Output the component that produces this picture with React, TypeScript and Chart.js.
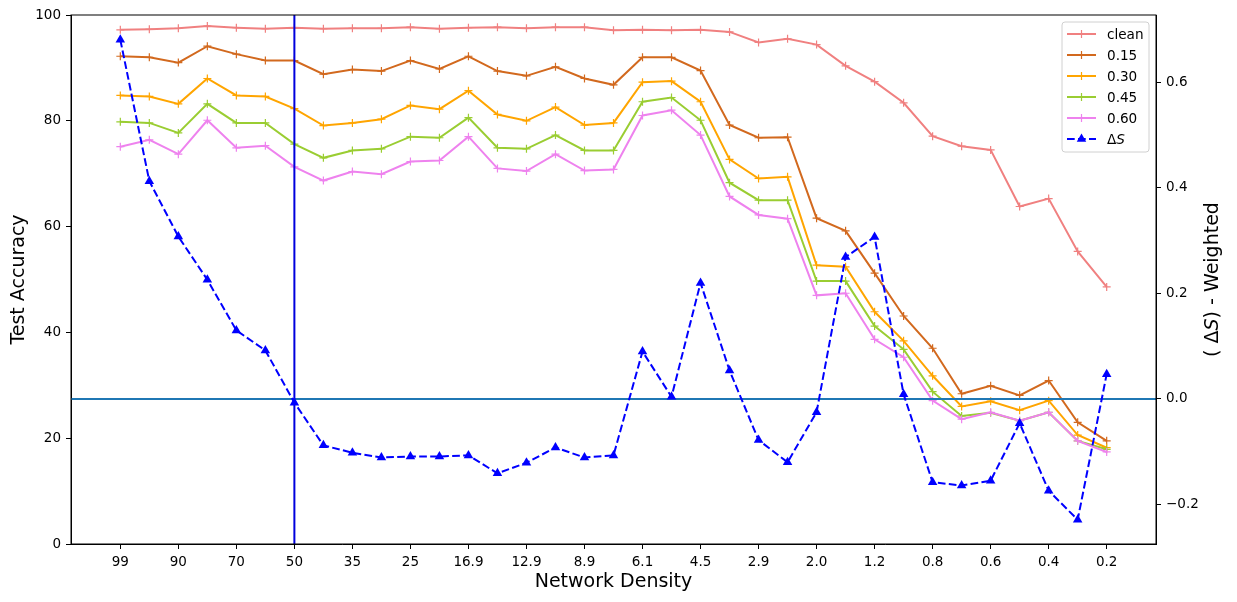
import React, { useEffect, useRef } from 'react';
import { Chart, registerables } from 'chart.js';

Chart.register(...registerables);

// x positions 0..34, labels only on every second point
const xTickLabels = ['99', '90', '70', '50', '35', '25', '16.9', '12.9', '8.9', '6.1', '4.5', '2.9', '2.0', '1.2', '0.8', '0.6', '0.4', '0.2'];

const clean = [97.2, 97.3, 97.5, 97.9, 97.6, 97.4, 97.6, 97.4, 97.5, 97.5, 97.7, 97.4, 97.6, 97.7, 97.5, 97.7, 97.7, 97.1, 97.2, 97.1, 97.2, 96.8, 94.8, 95.5, 94.4, 90.4, 87.4, 83.4, 77.1, 75.2, 74.5, 63.8, 65.3, 55.3, 48.6];
const noise015 = [92.2, 92.0, 91.0, 94.1, 92.6, 91.4, 91.4, 88.8, 89.7, 89.4, 91.4, 89.8, 92.2, 89.4, 88.5, 90.2, 88.0, 86.8, 92.0, 92.0, 89.5, 79.2, 76.8, 76.9, 61.6, 59.2, 51.2, 43.1, 37.0, 28.4, 29.9, 28.1, 30.9, 23.0, 19.5];
const noise030 = [84.8, 84.6, 83.2, 88.0, 84.8, 84.6, 82.3, 79.1, 79.6, 80.3, 82.9, 82.2, 85.7, 81.2, 80.0, 82.6, 79.2, 79.6, 87.3, 87.5, 83.6, 72.7, 69.1, 69.4, 52.7, 52.4, 43.9, 38.4, 31.8, 26.0, 27.0, 25.3, 27.1, 20.6, 18.2];
const noise045 = [79.8, 79.6, 77.7, 83.2, 79.6, 79.6, 75.6, 73.0, 74.4, 74.7, 77.0, 76.8, 80.6, 74.9, 74.7, 77.3, 74.4, 74.4, 83.6, 84.4, 80.1, 68.3, 65.0, 65.0, 49.7, 49.7, 41.2, 36.8, 28.8, 24.2, 24.8, 23.3, 24.9, 19.5, 17.9];
const noise060 = [75.1, 76.4, 73.7, 80.1, 74.9, 75.3, 71.3, 68.7, 70.4, 69.9, 72.3, 72.5, 77.0, 71.0, 70.5, 73.7, 70.6, 70.8, 81.0, 82.0, 77.3, 65.7, 62.2, 61.5, 47.0, 47.4, 38.7, 35.3, 27.1, 23.6, 24.9, 23.3, 24.9, 19.5, 17.4];
const deltaS = [0.681, 0.413, 0.308, 0.226, 0.130, 0.092, -0.007, -0.088, -0.102, -0.111, -0.109, -0.109, -0.107, -0.141, -0.121, -0.092, -0.111, -0.107, 0.090, 0.004, 0.220, 0.054, -0.078, -0.120, -0.025, 0.269, 0.307, 0.009, -0.158, -0.164, -0.155, -0.046, -0.174, -0.229, 0.047];

const leftTicks = [0, 20, 40, 60, 80, 100];
const rightTicks = [-0.2, 0, 0.2, 0.4, 0.6];
const splitIndex = 6; // density 50

const FONT = "'DejaVu Sans', sans-serif";

const toPoints = (values: number[]) => values.map((y, x) => ({ x, y }));

type Part = { text: string; italic?: boolean };

const measureParts = (ctx: CanvasRenderingContext2D, parts: Part[], size: number) =>
  parts.reduce((w, p) => {
    ctx.font = `${p.italic ? 'italic ' : ''}${size}px ${FONT}`;
    return w + ctx.measureText(p.text).width;
  }, 0);

const drawParts = (ctx: CanvasRenderingContext2D, parts: Part[], x: number, y: number, size: number) => {
  let cx = x;
  parts.forEach(p => {
    ctx.font = `${p.italic ? 'italic ' : ''}${size}px ${FONT}`;
    ctx.fillText(p.text, cx, y);
    cx += ctx.measureText(p.text).width;
  });
};

const drawMarker = (ctx: CanvasRenderingContext2D, style: string, x: number, y: number, r: number) => {
  ctx.beginPath();
  if (style === 'triangle') {
    for (let k = 0; k < 3; k++) {
      const a = (k * 2 * Math.PI) / 3;
      const px = x + Math.sin(a) * r;
      const py = y - Math.cos(a) * r;
      if (k === 0) ctx.moveTo(px, py);
      else ctx.lineTo(px, py);
    }
    ctx.closePath();
    ctx.fill();
  } else {
    ctx.moveTo(x - r, y);
    ctx.lineTo(x + r, y);
    ctx.moveTo(x, y - r);
    ctx.lineTo(x, y + r);
    ctx.stroke();
  }
};

const overlayPlugin = {
  id: 'overlay',
  afterDraw(chart: any) {
    const { ctx, chartArea } = chart;
    const { left, right, top, bottom } = chartArea;
    ctx.save();

    // frame (top spine too)
    ctx.strokeStyle = '#000';
    ctx.lineWidth = 1;
    ctx.setLineDash([]);
    ctx.strokeRect(left, top, right - left, bottom - top);

    // legend in the top right corner
    const entries = chart.data.datasets.filter((d: any) => d.label);
    const boxW = 87;
    const rowH = 21;
    const boxH = entries.length * rowH + 4;
    const bx = right - 7 - boxW;
    const by = top + 7;
    ctx.beginPath();
    ctx.roundRect(bx, by, boxW, boxH, 3);
    ctx.fillStyle = 'rgba(255,255,255,0.8)';
    ctx.fill();
    ctx.strokeStyle = '#d0d0d0';
    ctx.stroke();

    ctx.textBaseline = 'middle';
    ctx.textAlign = 'left';
    entries.forEach((d: any, i: number) => {
      const y = by + 12 + i * rowH;
      const x0 = bx + 5;
      const x1 = x0 + 29;
      ctx.strokeStyle = d.borderColor;
      ctx.fillStyle = d.borderColor;
      ctx.lineWidth = 2;
      ctx.setLineDash(d.borderDash || []);
      ctx.beginPath();
      ctx.moveTo(x0, y);
      ctx.lineTo(x1, y);
      ctx.stroke();
      ctx.setLineDash([]);
      ctx.lineWidth = 1.2;
      drawMarker(ctx, d.pointStyle, (x0 + x1) / 2, y, d.pointStyle === 'triangle' ? 5.5 : 4);
      ctx.fillStyle = '#000';
      const parts: Part[] = d.label === 'ΔS' ? [{ text: 'Δ' }, { text: 'S', italic: true }] : [{ text: d.label }];
      drawParts(ctx, parts, x1 + 11, y + 1, 13.6);
    });

    // right axis title, reading bottom to top
    const titleParts: Part[] = [{ text: '( Δ' }, { text: 'S', italic: true }, { text: ') - Weighted' }];
    const size = 19;
    const w = measureParts(ctx, titleParts, size);
    ctx.translate(right + 57, (top + bottom) / 2);
    ctx.rotate(-Math.PI / 2);
    ctx.fillStyle = '#000';
    ctx.textBaseline = 'middle';
    drawParts(ctx, titleParts, -w / 2, 0, size);

    ctx.restore();
  }
};

const tickFont = { family: FONT, size: 13.5 };
const axisGrid = { drawOnChartArea: false, drawTicks: true, tickLength: 5, color: '#000', tickWidth: 1 };
const axisBorder = { display: true, color: '#000', width: 1 };

const lineDataset = (label: string, values: number[], color: string, order: number) => ({
  label,
  data: toPoints(values),
  yAxisID: 'y',
  borderColor: color,
  backgroundColor: color,
  borderWidth: 2,
  pointStyle: 'cross',
  pointRadius: 4,
  pointBorderWidth: 1.2,
  pointBorderColor: color,
  tension: 0,
  order
});

const App: React.FC = () => {
  const canvasRef = useRef<HTMLCanvasElement | null>(null);
  const chartRef = useRef<Chart | null>(null);

  useEffect(() => {
    document.body.style.margin = '0';
    if (!canvasRef.current) return;
    if (chartRef.current) chartRef.current.destroy();

    chartRef.current = new Chart(canvasRef.current, {
      type: 'line',
      data: {
        datasets: [
          lineDataset('clean', clean, '#f08080', 7),
          lineDataset('0.15', noise015, '#d2691e', 6),
          lineDataset('0.30', noise030, '#ffa500', 5),
          lineDataset('0.45', noise045, '#9acd32', 4),
          lineDataset('0.60', noise060, '#ee82ee', 3),
          {
            label: 'ΔS',
            data: toPoints(deltaS),
            yAxisID: 'y2',
            borderColor: '#0000ff',
            backgroundColor: '#0000ff',
            borderWidth: 2,
            borderDash: [7.7, 3.3],
            pointStyle: 'triangle',
            pointRadius: 5.5,
            pointBorderWidth: 0,
            pointBackgroundColor: '#0000ff',
            tension: 0,
            order: 0
          } as any,
          {
            label: '',
            data: [{ x: splitIndex, y: leftTicks[0] }, { x: splitIndex, y: leftTicks[leftTicks.length - 1] }],
            yAxisID: 'y',
            borderColor: '#0000dd',
            borderWidth: 2,
            pointRadius: 0,
            order: 1
          },
          {
            label: '',
            data: [{ x: -2, y: 0 }, { x: 36, y: 0 }],
            yAxisID: 'y2',
            borderColor: '#1f77b4',
            borderWidth: 2,
            pointRadius: 0,
            order: 2
          }
        ]
      },
      options: {
        animation: false,
        responsive: true,
        maintainAspectRatio: false,
        layout: { padding: { top: 15, left: 0, right: 0, bottom: 0 } },
        plugins: {
          legend: { display: false },
          tooltip: { enabled: false }
        },
        scales: {
          x: {
            type: 'linear',
            min: -1.7,
            max: 35.7,
            afterBuildTicks: (scale: any) => {
              scale.ticks = xTickLabels.map((_, i) => ({ value: i * 2 }));
            },
            afterFit: (scale: any) => {
              scale.height = 58;
            },
            ticks: {
              color: '#000',
              font: tickFont,
              padding: 5,
              maxRotation: 0,
              autoSkip: false,
              callback: (_v: any, i: number) => xTickLabels[i]
            },
            grid: axisGrid,
            border: axisBorder,
            title: {
              display: true,
              text: 'Network Density',
              color: '#000',
              font: { family: FONT, size: 19 },
              padding: { top: 0, bottom: 9 }
            }
          },
          y: {
            type: 'linear',
            position: 'left',
            min: 0,
            max: 100,
            afterBuildTicks: (scale: any) => {
              scale.ticks = leftTicks.map(value => ({ value }));
            },
            afterFit: (scale: any) => {
              scale.width = 71;
            },
            ticks: { color: '#000', font: tickFont, padding: 5 },
            grid: axisGrid,
            border: axisBorder,
            title: {
              display: true,
              text: 'Test Accuracy',
              color: '#000',
              font: { family: FONT, size: 19 },
              padding: { top: 8, bottom: 0 }
            }
          },
          y2: {
            type: 'linear',
            position: 'right',
            min: -0.275,
            max: 0.728,
            afterBuildTicks: (scale: any) => {
              scale.ticks = rightTicks.map(value => ({ value }));
            },
            afterFit: (scale: any) => {
              scale.width = 81;
            },
            ticks: {
              color: '#000',
              font: tickFont,
              padding: 5,
              callback: (v: any) => Number(v).toFixed(1).replace('-', '\u2212')
            },
            grid: axisGrid,
            border: axisBorder
          }
        }
      },
      plugins: [overlayPlugin]
    });

    return () => {
      if (chartRef.current) {
        chartRef.current.destroy();
        chartRef.current = null;
      }
    };
  }, []);

  return (
    <div style={{ width: '1237px', height: '602px', position: 'relative' }}>
      <canvas ref={canvasRef} />
    </div>
  );
};

export default App;
